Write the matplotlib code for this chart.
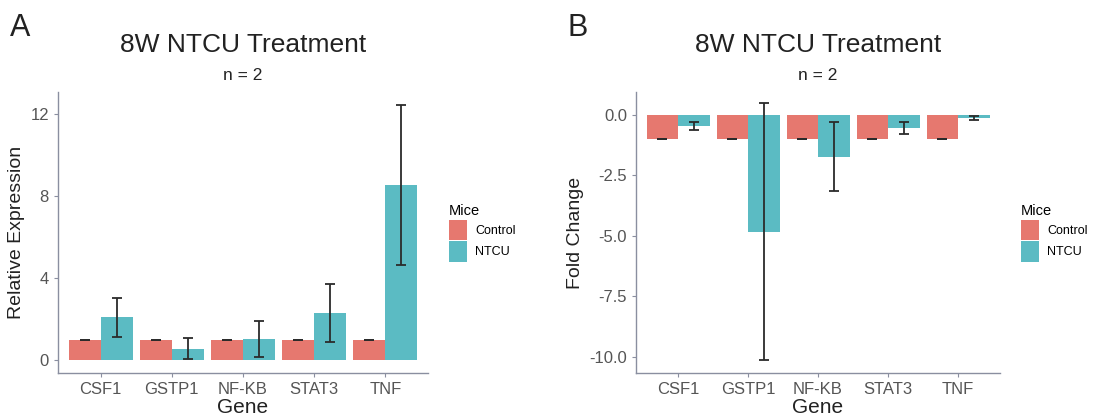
import matplotlib
matplotlib.use("Agg")
import matplotlib.pyplot as plt
import numpy as np
from matplotlib.patches import Patch

genes = ["CSF1", "GSTP1", "NF-KB", "STAT3", "TNF"]
groups = ["Control", "NTCU"]

rel_control = [1.0, 1.0, 1.0, 1.0, 1.0]
rel_control_err = [0.0, 0.0, 0.0, 0.0, 0.0]
rel_ntcu = [2.09, 0.57, 1.06, 2.29, 8.55]
rel_ntcu_err = [0.93, 0.52, 0.88, 1.42, 3.89]

fc_control = [-1.0, -1.0, -1.0, -1.0, -1.0]
fc_control_err = [0.0, 0.0, 0.0, 0.0, 0.0]
fc_ntcu = [-0.48, -4.84, -1.74, -0.54, -0.15]
fc_ntcu_err = [0.17, 5.32, 1.43, 0.25, 0.08]

colors = {"Control": "#E6786F", "NTCU": "#5BBBC3"}
spine_col = "#8A8FA0"
tick_col = "#555555"

plt.rcParams['font.family'] = ['Liberation Sans', 'DejaVu Sans']

fig = plt.figure(figsize=(11.19, 4.2), dpi=100)

def panel(rect, ctrl, ctrl_err, ntcu, ntcu_err, ylabel, yticks, yticklabels, ylim,
          letter, letter_x, title_x, leg_x):
    ax = fig.add_axes(rect)
    x = np.arange(1, len(genes) + 1)
    w = 0.45
    ax.bar(x - w/2, ctrl, width=w, color=colors["Control"], zorder=2)
    ax.bar(x + w/2, ntcu, width=w, color=colors["NTCU"], zorder=2)
    ek = dict(fmt="none", ecolor="#2b2b2b", elinewidth=1.3, capsize=3.5, capthick=1.3, zorder=3)
    ax.errorbar(x - w/2, ctrl, yerr=ctrl_err, **ek)
    ax.errorbar(x + w/2, ntcu, yerr=ntcu_err, **ek)
    ax.set_xlim(0.4, 5.6)
    ax.set_ylim(*ylim)
    ax.set_xticks(x)
    ax.set_xticklabels(genes)
    ax.set_yticks(yticks)
    ax.set_yticklabels(yticklabels)
    for s in ["top", "right"]:
        ax.spines[s].set_visible(False)
    for s in ["left", "bottom"]:
        ax.spines[s].set_color(spine_col)
        ax.spines[s].set_linewidth(1.0)
    ax.tick_params(axis="both", colors=spine_col, labelcolor=tick_col, labelsize=12,
                   length=3, width=0.8)
    ax.set_xlabel("Gene", fontsize=15, color="#222222", labelpad=1)
    ax.set_ylabel(ylabel, fontsize=14, color="#222222", labelpad=4)
    fig.text(letter_x, 1 - 28/420, letter, fontsize=22, color="#222222", ha="left", va="center")
    fig.text(title_x, 1 - 45/420, "8W NTCU Treatment", fontsize=19, color="#222222",
             ha="center", va="center")
    fig.text(title_x, 1 - 75/420, "n = 2", fontsize=12.5, color="#222222",
             ha="center", va="center")
    handles = [Patch(facecolor=colors[g], edgecolor="none", label=g) for g in groups]
    fig.legend(handles=handles, title="Mice", loc="upper left",
               bbox_to_anchor=(leg_x, 1 - 193/420), frameon=False,
               fontsize=9, title_fontsize=10.5, handlelength=1.45, handleheight=2.1,
               handletextpad=0.6, labelspacing=0.12, alignment="left")
    return ax

panel([58/1119, 47/420, 370/1119, 281/420], rel_control, rel_control_err, rel_ntcu, rel_ntcu_err,
      "Relative Expression", [0, 4, 8, 12], ["0", "4", "8", "12"], (-0.62, 13.09),
      "A", 10/1119, 243/1119, 438/1119)
panel([636/1119, 47/420, 364/1119, 281/420], fc_control, fc_control_err, fc_ntcu, fc_ntcu_err,
      "Fold Change", [0, -2.5, -5, -7.5, -10], ["0.0", "-2.5", "-5.0", "-7.5", "-10.0"], (-10.68, 0.94),
      "B", 568/1119, 818/1119, 1010/1119)

fig.savefig("out.png", dpi=100)
